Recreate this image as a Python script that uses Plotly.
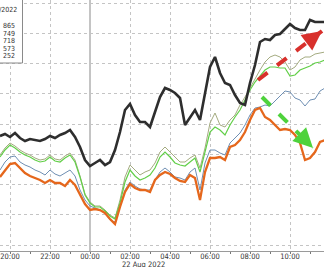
import pandas as pd
import plotly.graph_objects as go

# 15-minute samples starting 21 Aug 2022 19:30
times = pd.date_range("2022-08-21 19:30", periods=66, freq="15min")

black_vals = [115,117,114,118,113,110,112,111,110,112,
              115,113,116,118,121,114,104,91,85,88,
              91,86,89,101,119,141,147,136,129,129,
              124,139,154,163,161,158,153,126,134,141,
              131,159,184,194,178,168,166,156,148,146,
              168,186,209,212,211,216,217,222,227,223,
              221,221,231,229,229,229]
olive_vals = [96,103,108,105,101,98,96,93,91,92,
              96,92,91,95,98,91,75,57,49,45,
              45,41,36,33,51,74,86,81,76,79,
              81,88,99,104,99,93,89,89,93,96,
              83,103,128,138,126,124,131,136,146,154,
              163,173,181,189,194,196,194,189,181,184,
              191,194,194,197,198,199]
green_vals = [94,101,106,103,99,96,94,91,89,90,
              94,90,89,93,96,89,74,56,48,44,
              44,40,35,32,48,69,81,75,71,73,
              76,83,94,99,94,88,86,85,89,93,
              79,99,119,124,121,116,126,134,141,151,
              161,169,175,181,184,184,183,183,175,176,
              181,183,185,188,189,191]
blue_vals = [81,89,94,95,89,86,84,81,79,76,
             81,77,75,78,81,75,61,51,45,43,
             41,38,31,29,45,61,69,65,62,61,
             61,71,79,83,79,74,73,71,79,83,
             61,88,101,101,98,96,108,113,118,126,
             136,143,144,146,145,150,155,160,159,153,
             151,145,151,152,160,163]
orange_vals = [74,81,87,88,83,78,75,73,71,68,
               71,68,68,65,71,66,56,47,41,42,
               41,38,32,27,44,59,67,63,61,61,
               59,71,76,79,77,73,70,69,76,73,
               51,79,93,93,94,91,104,106,111,119,
               131,141,143,134,131,126,121,122,121,116,
               108,91,93,99,109,111]

legend_header = "08/19/2022"
legend_values = ["865", "749", "718", "573", "252"]

# arrows: (start time, start value, end time, end value)
red_arrow = ("2022-08-22 08:24", 171, "2022-08-22 11:36", 220)
green_arrow = ("2022-08-22 08:36", 154, "2022-08-22 11:09", 103)

NARROW = "DejaVu Sans Condensed, Liberation Sans Narrow, DejaVu Sans, sans-serif"

fig = go.Figure()
series = [
    (blue_vals, "#6f8fb3", 1.0),
    (olive_vals, "#a4ab80", 1.0),
    (green_vals, "#62cf48", 1.2),
    (orange_vals, "#e5671c", 2.3),
    (black_vals, "#2e2e2e", 2.6),
]
for vals, col, w in series:
    fig.add_trace(go.Scatter(x=times, y=vals, mode="lines",
                             line=dict(color=col, width=w), hoverinfo="skip"))

# day boundary
fig.add_shape(type="line", x0="2022-08-22 00:00", x1="2022-08-22 00:00",
              y0=0, y1=1, yref="paper", line=dict(color="#b0b0b0", width=1.5), layer="below")

for arr, col in [(red_arrow, "#d8302c"), (green_arrow, "#4fd23c")]:
    fig.add_shape(type="line", x0=arr[0], y0=arr[1], x1=arr[2], y1=arr[3],
                  line=dict(color=col, width=4, dash="dash"), layer="above")

fig.add_annotation(x=red_arrow[2], y=red_arrow[3], ax=-8, ay=6, text="",
                   showarrow=True, arrowhead=2, arrowsize=1.3, arrowwidth=3,
                   arrowcolor="#d8302c")
fig.add_annotation(x=green_arrow[2], y=green_arrow[3], ax=-7, ay=-7, text="",
                   showarrow=True, arrowhead=2, arrowsize=1.3, arrowwidth=3,
                   arrowcolor="#4fd23c")

# legend box (cropped at left)
fig.add_shape(type="rect", xref="paper", yref="paper", x0=-0.2, x1=22.5/324,
              y0=(251-63)/251, y1=1.05, fillcolor="white",
              line=dict(color="#8a8a8a", width=1), layer="above")
fig.add_annotation(xref="paper", yref="paper", x=18.5/324, y=1 - 10/251,
                   xanchor="right", yanchor="middle", text=legend_header, showarrow=False,
                   font=dict(family=NARROW, size=7, color="#333"))
for txt, py in zip(legend_values, [26, 33.5, 41, 48.5, 56]):
    fig.add_annotation(xref="paper", yref="paper", x=0.5/324, y=1 - py/251,
                       xanchor="left", yanchor="middle", text=txt, showarrow=False,
                       font=dict(family=NARROW, size=7, color="#333"))

fig.add_annotation(xref="x", yref="paper", x="2022-08-22 02:39", y=0, yshift=-13,
                   yanchor="middle", text="22 Aug 2022", showarrow=False,
                   font=dict(family=NARROW, size=7.5, color="#333"))

fig.update_layout(
    width=324, height=267, margin=dict(l=0, r=0, t=0, b=16),
    paper_bgcolor="white", plot_bgcolor="white", showlegend=False,
    font=dict(family=NARROW, size=8, color="#333"),
)
fig.update_xaxes(
    type="date", range=["2022-08-21 19:30", "2022-08-22 11:42"],
    tickformat="%H:%M", tick0="2022-08-21 20:00", dtick=7200000,
    showgrid=True, gridcolor="#c4c4c4", griddash="dot", gridwidth=1,
    ticks="outside", ticklen=2, tickcolor="#777",
    showline=True, linecolor="#9a9a9a", linewidth=1,
    ticklabeloverflow="allow", ticklabelstandoff=-4,
    tickfont=dict(family=NARROW, size=7.5, color="#333"),
    minor=dict(dtick=3600000, ticks="outside", ticklen=2, tickcolor="#777", showgrid=False),
)
fig.update_yaxes(
    range=[0, 251], tick0=6, dtick=30.25, showticklabels=False,
    showgrid=True, gridcolor="#c4c4c4", griddash="dot", gridwidth=1,
    zeroline=False, ticks="",
)

fig.write_html("out.html")
